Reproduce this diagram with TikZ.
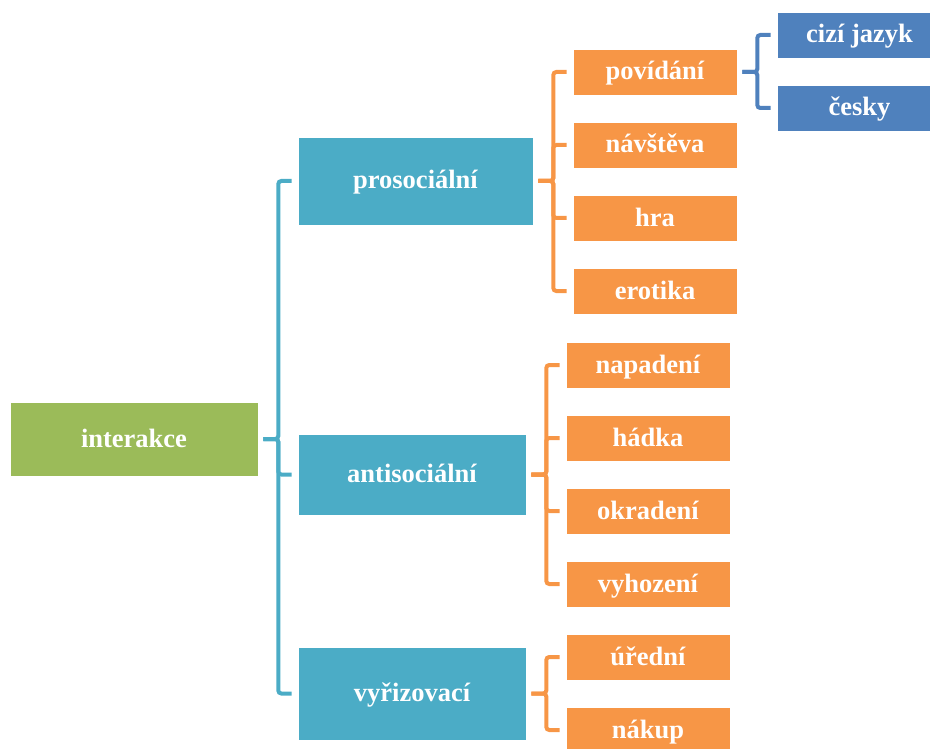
\documentclass[tikz,border=0pt]{standalone}
\usepackage{fontspec}
\setmainfont{Liberation Serif}
\definecolor{rootgreen}{HTML}{9BBB59}
\definecolor{levelteal}{HTML}{4BACC6}
\definecolor{leaforange}{HTML}{F79646}
\definecolor{subblue}{HTML}{4F81BD}
\begin{document}
\begin{tikzpicture}[x=1pt,y=-1pt,
  box/.style={rectangle, inner sep=0pt, text=white, font=\fontsize{26.5}{30}\selectfont\bfseries,
    text height=20pt, text depth=4pt, draw=white, line width=0.6pt},
  rootbox/.style={box, fill=rootgreen, minimum width=248pt, minimum height=74pt},
  midbox/.style={box, fill=levelteal, minimum width=228pt},
  leafbox/.style={box, fill=leaforange, minimum width=164pt, minimum height=46pt},
  subbox/.style={box, fill=subblue, minimum width=165pt, minimum height=46pt},
  link/.style={line width=4pt, rounded corners=3pt},
]
\useasboundingbox (0,0) rectangle (930,749);
\clip (0,0) rectangle (930,749);

% root
\node[rootbox] (root) at (134,439) {interakce};

% second level
\node[midbox, minimum width=235pt, minimum height=88pt] (pro) at (415.5,181) {prosociální};
\node[midbox, minimum height=81pt] (anti) at (412,474.5) {antisociální};
\node[midbox, minimum height=93pt] (vyr) at (412,693.5) {vyřizovací};

% children of prosociální
\node[leafbox] (pov) at (655,72) {povídání};
\node[leafbox] (nav) at (655,145) {návštěva};
\node[leafbox] (hra) at (655,218) {hra};
\node[leafbox] (ero) at (655,291) {erotika};

% children of antisociální
\node[leafbox] (nap) at (648,365) {napadení};
\node[leafbox] (had) at (648,438) {hádka};
\node[leafbox] (okr) at (648,511) {okradení};
\node[leafbox] (vyh) at (648,584) {vyhození};

% children of vyřizovací
\node[leafbox] (ure) at (648,657) {úřední};
\node[leafbox] (nak) at (648,730) {nákup};

% children of povídání
\node[subbox] (ciz) at (859.5,35) {cizí jazyk};
\node[subbox] (ces) at (859.5,108) {česky};

% bracket connectors
\foreach \c in {pro,anti,vyr}
  \draw[link, levelteal] ([xshift=5pt]root.east) -- ++(15,0) |- ([xshift=-6pt]\c.west);
\foreach \c in {pov,nav,hra,ero}
  \draw[link, leaforange] ([xshift=5pt]pro.east) -- ++(15,0) |- ([xshift=-6pt]\c.west);
\foreach \c in {nap,had,okr,vyh}
  \draw[link, leaforange] ([xshift=5pt]anti.east) -- ++(15,0) |- ([xshift=-6pt]\c.west);
\foreach \c in {ure,nak}
  \draw[link, leaforange] ([xshift=5pt]vyr.east) -- ++(15,0) |- ([xshift=-6pt]\c.west);
\foreach \c in {ciz,ces}
  \draw[link, subblue] ([xshift=5pt]pov.east) -- ++(15,0) |- ([xshift=-6pt]\c.west);
\end{tikzpicture}
\end{document}
